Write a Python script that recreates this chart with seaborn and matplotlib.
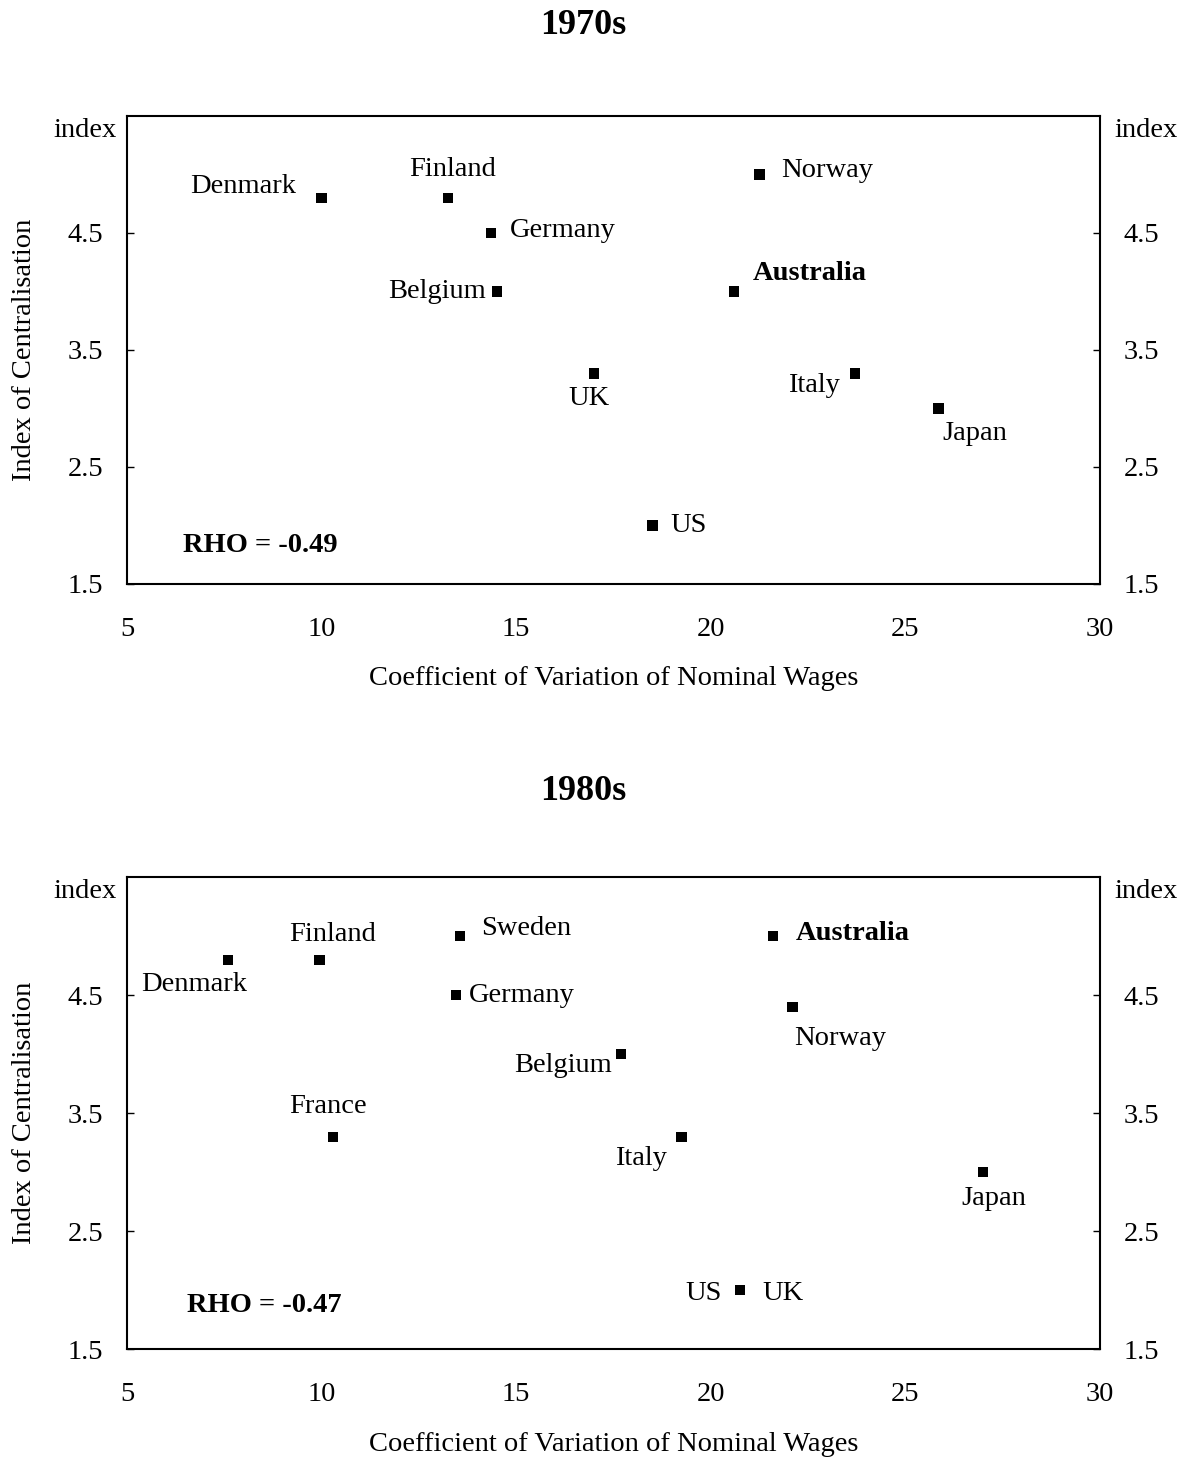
import matplotlib
matplotlib.use('Agg')
import matplotlib.pyplot as plt
import seaborn as sns
import pandas as pd

# 1970s verileri
countries_70 = ["Denmark", "Finland", "Germany", "Belgium", "Norway", "Australia",
                "UK", "Italy", "Japan", "US"]
wage_cv_70 = [10.0, 13.25, 14.35, 14.5, 21.25, 20.6, 17.0, 23.7, 25.85, 18.5]
central_70 = [4.8, 4.8, 4.5, 4.0, 5.0, 4.0, 3.3, 3.3, 3.0, 2.0]
rho_70 = "-0.49"

# 1980s verileri
countries_80 = ["Denmark", "Finland", "Sweden", "Germany", "Australia", "Norway",
                "Belgium", "France", "Italy", "Japan", "US", "UK"]
wage_cv_80 = [7.6, 9.95, 13.55, 13.45, 21.6, 22.1, 17.7, 10.3, 19.25, 27.0, 20.75, 20.75]
central_80 = [4.8, 4.8, 5.0, 4.5, 5.0, 4.4, 4.0, 3.3, 3.3, 3.0, 2.0, 2.0]
rho_80 = "-0.47"

x_ticks = [5, 10, 15, 20, 25, 30]
y_ticks = [1.5, 2.5, 3.5, 4.5]

# etiket konumlari (piksel kaydirma, hizalama)
offs_70 = {
    "Denmark": (-25, 11, "right"), "Finland": (5, 28, "center"),
    "Germany": (19, 2, "left"), "Belgium": (-11, 0, "right"),
    "Norway": (22, 4, "left"), "Australia": (19, 18, "left"),
    "UK": (-5, -25, "center"), "Italy": (-15, -12, "right"),
    "Japan": (4, -25, "left"), "US": (18, 0, "left"),
}
offs_80 = {
    "Denmark": (-34, -25, "center"), "Finland": (13, 25, "center"),
    "Sweden": (21, 8, "left"), "Germany": (13, 0, "left"),
    "Australia": (23, 3, "left"), "Norway": (2, -32, "left"),
    "Belgium": (-9, -11, "right"), "France": (-5, 30, "center"),
    "Italy": (-15, -22, "right"), "Japan": (11, -26, "center"),
    "US": (-18, -3, "right"), "UK": (22, -3, "left"),
}

sns.set_style("white")
plt.rcParams['font.family'] = ['Liberation Serif', 'DejaVu Serif']
plt.rcParams['text.color'] = 'black'
plt.rcParams['axes.labelcolor'] = 'black'
plt.rcParams['xtick.color'] = 'black'
plt.rcParams['ytick.color'] = 'black'
FS = 20.5

fig = plt.figure(figsize=(11.91, 14.57), dpi=100)
ax1 = fig.add_axes([0.1066, 0.5992, 0.817, 0.3212])
ax2 = fig.add_axes([0.1066, 0.0741, 0.817, 0.3239])


def panel(ax, names, xs, ys, offs, rho, rho_pos):
    df = pd.DataFrame({"country": names, "cv": xs, "idx": ys})
    sns.scatterplot(data=df, x="cv", y="idx", marker="s", s=55, color="black",
                    edgecolor="none", ax=ax, zorder=3)
    for _, r in df.iterrows():
        dx, dy, ha = offs[r["country"]]
        bold = r["country"] == "Australia"
        ax.annotate(r["country"], (r["cv"], r["idx"]),
                    xytext=(dx * 0.72, dy * 0.72), textcoords="offset points",
                    ha=ha, va="center", fontsize=FS,
                    fontweight="bold" if bold else "normal")
    ax.set_xlim(5, 30)
    ax.set_ylim(1.5, 5.5)
    ax.set_xticks(x_ticks)
    ax.set_yticks(y_ticks)
    ax.set_yticklabels([f"{v:.1f}" for v in y_ticks])
    ax.tick_params(axis="x", direction="in", length=5, width=1, labelsize=FS, pad=24)
    ax.tick_params(axis="y", direction="in", length=5, width=1, labelsize=FS, pad=17,
                   left=True, right=True, labelleft=True, labelright=True)
    for sp in ax.spines.values():
        sp.set_visible(True)
        sp.set_linewidth(1.5)
        sp.set_color("black")
    ax.set_xlabel("Coefficient of Variation of Nominal Wages", fontsize=FS)
    ax.set_ylabel("Index of Centralisation", fontsize=FS)
    ax.xaxis.set_label_coords(0.5, -0.175)
    ax.yaxis.set_label_coords(-0.092, 0.5)
    ax.text(-0.0103, 0.97, "index", transform=ax.transAxes, ha="right", va="center", fontsize=FS)
    ax.text(1.0144, 0.97, "index", transform=ax.transAxes, ha="left", va="center", fontsize=FS)
    ax.text(rho_pos[0], rho_pos[1], f"RHO = {rho}", transform=ax.transAxes,
            ha="left", va="center", fontsize=FS, fontweight="bold")


panel(ax1, countries_70, wage_cv_70, central_70, offs_70, rho_70, (0.0576, 0.083))
panel(ax2, countries_80, wage_cv_80, central_80, offs_80, rho_80, (0.0617, 0.093))

fig.text(0.4895, 1 - 26 / 1457, "1970s", ha="center", va="center", fontsize=26, fontweight="bold")
fig.text(0.4895, 1 - 791 / 1457, "1980s", ha="center", va="center", fontsize=26, fontweight="bold")

fig.savefig("out.png", dpi=100)
